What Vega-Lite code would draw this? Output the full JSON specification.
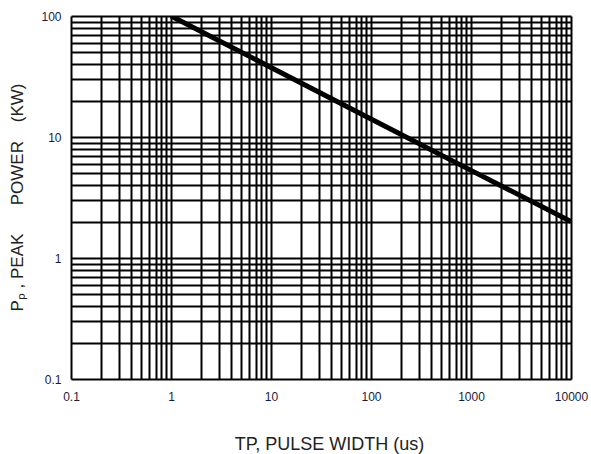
{
  "$schema": "https://vega.github.io/schema/vega-lite/v6.json",
  "width": 500,
  "height": 363,
  "autosize": {"type": "none"},
  "padding": {"left": 71, "top": 16, "right": 20, "bottom": 75},
  "background": "white",
  "config": {
    "view": {"stroke": null},
    "font": "Liberation Sans",
    "axis": {
      "grid": true,
      "gridColor": "#000000",
      "gridOpacity": 1,
      "gridWidth": 2,
      "domain": false,
      "ticks": false,
      "labelFont": "Liberation Sans",
      "labelFontSize": 12,
      "labelColor": "#1c1c3a",
      "labelFlush": false,
      "titleFont": "Liberation Sans",
      "titleFontWeight": "normal",
      "titleColor": "#222222",
      "titleFontSize": 18
    }
  },
  "data": {
    "values": [
      {"tp": 1, "pp": 100},
      {"tp": 10, "pp": 37.6},
      {"tp": 100, "pp": 14.1},
      {"tp": 1000, "pp": 5.3},
      {"tp": 10000, "pp": 2.0}
    ]
  },
  "mark": {"type": "line", "color": "#000000", "strokeWidth": 5, "clip": true},
  "encoding": {
    "x": {
      "field": "tp",
      "type": "quantitative",
      "scale": {"type": "log", "domain": [0.1, 10000], "nice": false},
      "axis": {
        "title": "TP, PULSE WIDTH (us)",
        "values": [0.1,0.2,0.3,0.4,0.5,0.6,0.7,0.8,0.9,1,2,3,4,5,6,7,8,9,10,20,30,40,50,60,70,80,90,100,200,300,400,500,600,700,800,900,1000,2000,3000,4000,5000,6000,7000,8000,9000,10000],
        "labelExpr": "abs(log(datum.value)/LN10 - round(log(datum.value)/LN10)) < 1e-6 ? format(datum.value, '~g') : ''",
        "labelPadding": 12,
        "labelOverlap": false,
        "titleY": 65,
        "titleBaseline": "middle",
        "titleX": 258
      }
    },
    "y": {
      "field": "pp",
      "type": "quantitative",
      "scale": {"type": "log", "domain": [0.1, 100], "nice": false},
      "axis": {
        "title": "P\u209a , PEAK\u00a0\u00a0\u00a0\u00a0\u00a0\u00a0POWER\u00a0\u00a0\u00a0\u00a0(KW)",
        "values": [0.1,0.2,0.3,0.4,0.5,0.6,0.7,0.8,0.9,1,2,3,4,5,6,7,8,9,10,20,30,40,50,60,70,80,90,100],
        "labelExpr": "abs(log(datum.value)/LN10 - round(log(datum.value)/LN10)) < 1e-6 ? format(datum.value, '~g') : ''",
        "labelPadding": 10,
        "labelOverlap": false,
        "titleX": -54,
        "titleY": 181,
        "titleFontSize": 17,
        "titleBaseline": "middle",
        "titleAngle": -90
      }
    }
  }
}
